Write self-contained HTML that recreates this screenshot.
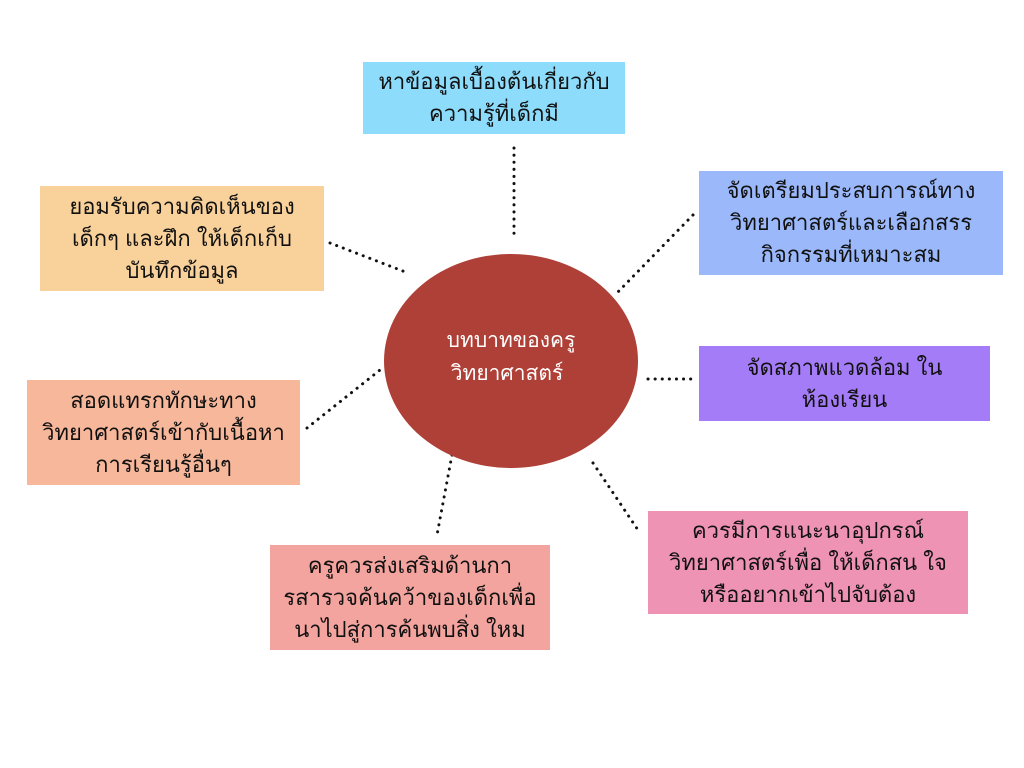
<!DOCTYPE html>
<html><head><meta charset="utf-8"><style>
body{margin:0;width:1024px;height:768px;background:#fff;position:relative;overflow:hidden;font-family:"Liberation Sans","DejaVu Sans",sans-serif;}
.b{position:absolute;display:flex;align-items:center;justify-content:center;text-align:center;font-size:22px;line-height:32px;color:#111;box-sizing:border-box;padding:0 6px;}
svg{position:absolute;left:0;top:0}
</style></head><body>
<svg width="1024" height="768">
<g stroke="#111" stroke-width="3" stroke-dasharray="0.1 7" stroke-linecap="round" fill="none">
<line x1="514" y1="148" x2="514" y2="240"/>
<line x1="330" y1="243" x2="408" y2="273"/>
<line x1="693" y1="215" x2="615" y2="295"/>
<line x1="648" y1="379" x2="697" y2="379"/>
<line x1="593" y1="463" x2="640" y2="533"/>
<line x1="452" y1="455" x2="437" y2="535"/>
<line x1="307" y1="428" x2="380" y2="370"/>
</g>
<ellipse cx="511" cy="361" rx="127" ry="107" fill="#ae4037"/>
<text x="511" y="347" fill="#fff" font-size="21" text-anchor="middle" font-family="Liberation Sans, DejaVu Sans, sans-serif">บทบาทของครู</text>
<text x="507" y="380" fill="#fff" font-size="21" text-anchor="middle" font-family="Liberation Sans, DejaVu Sans, sans-serif">วิทยาศาสตร์</text>
</svg>
<div class="b" style="left:363px;top:62px;width:262px;height:72px;background:#8ddcfb">หาข้อมูลเบื้องต้นเกี่ยวกับ<br>ความรู้ที่เด็กมี</div>
<div class="b" style="left:699px;top:171px;width:304px;height:104px;background:#9bb8fb">จัดเตรียมประสบการณ์ทาง<br>วิทยาศาสตร์และเลือกสรร<br>กิจกรรมที่เหมาะสม</div>
<div class="b" style="left:699px;top:346px;width:291px;height:75px;background:#a57cf7">จัดสภาพแวดล้อม ใน<br>ห้องเรียน</div>
<div class="b" style="left:648px;top:511px;width:320px;height:103px;background:#ef93b4">ควรมีการแนะนาอุปกรณ์<br>วิทยาศาสตร์เพื่อ ให้เด็กสน ใจ<br>หรืออยากเข้าไปจับต้อง</div>
<div class="b" style="left:270px;top:545px;width:280px;height:105px;background:#f4a49e">ครูควรส่งเสริมด้านกา<br>รสารวจค้นคว้าของเด็กเพื่อ<br>นาไปสู่การค้นพบสิ่ง ใหม</div>
<div class="b" style="left:27px;top:380px;width:273px;height:105px;background:#f7b79a">สอดแทรกทักษะทาง<br>วิทยาศาสตร์เข้ากับเนื้อหา<br>การเรียนรู้อื่นๆ</div>
<div class="b" style="left:40px;top:186px;width:284px;height:105px;background:#f9d19b">ยอมรับความคิดเห็นของ<br>เด็กๆ และฝึก ให้เด็กเก็บ<br>บันทึกข้อมูล</div>
</body></html>
